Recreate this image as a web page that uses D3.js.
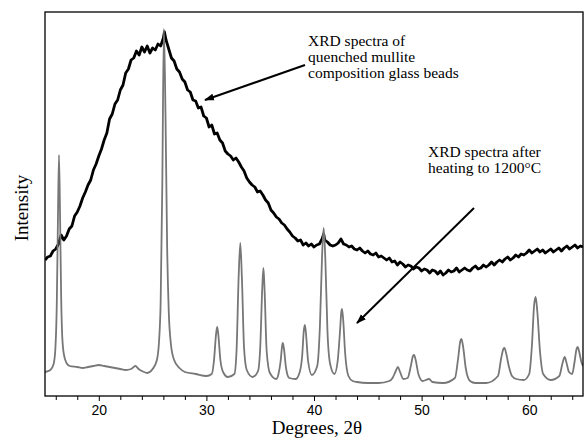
<!DOCTYPE html>
<html><head><meta charset="utf-8">
<script src="https://cdn.jsdelivr.net/npm/d3@7"></script>
<style>
html,body{margin:0;padding:0;background:#fff;}
svg{display:block;}
</style></head>
<body>
<svg id="chart" width="585" height="440"></svg>
<script>
// ---- Data (intensity in arbitrary units) ----
const xDomain = [15, 65];
const yDomain = [0, 384];
const majorTicks = [20, 30, 40, 50, 60];
const minorTicks = [16,18,22,24,26,28,32,34,36,38,42,44,46,48,52,54,56,58,62,64];

// Quenched mullite composition glass beads (amorphous hump)
const glassDeg = [15.00,15.25,15.50,15.75,16.00,16.25,16.50,16.75,17.00,17.25,17.50,17.75,18.00,18.25,18.50,18.75,19.00,19.25,19.50,19.75,20.00,20.25,20.50,20.75,21.00,21.25,21.50,21.75,22.00,22.25,22.50,22.75,23.00,23.25,23.50,23.75,24.00,24.25,24.50,24.75,25.00,25.25,25.50,25.75,26.00,26.10,26.25,26.50,26.75,27.00,27.25,27.50,27.75,28.00,28.25,28.50,28.75,29.00,29.25,29.50,29.75,30.00,30.25,30.50,30.75,31.00,31.25,31.50,31.75,32.00,32.25,32.50,32.75,33.00,33.25,33.50,33.75,34.00,34.25,34.50,34.75,35.00,35.25,35.50,35.75,36.00,36.25,36.50,36.75,37.00,37.25,37.50,37.75,38.00,38.25,38.50,38.75,39.00,39.25,39.50,39.75,40.00,40.25,40.50,40.75,40.90,41.00,41.25,41.50,41.75,42.00,42.25,42.50,42.75,43.00,43.25,43.50,43.75,44.00,44.25,44.50,44.75,45.00,45.25,45.50,45.75,46.00,46.25,46.50,46.75,47.00,47.25,47.50,47.75,48.00,48.25,48.50,48.75,49.00,49.25,49.50,49.75,50.00,50.25,50.50,50.75,51.00,51.25,51.50,51.75,52.00,52.25,52.50,52.75,53.00,53.25,53.50,53.75,54.00,54.25,54.50,54.75,55.00,55.25,55.50,55.75,56.00,56.25,56.50,56.75,57.00,57.25,57.50,57.75,58.00,58.25,58.50,58.75,59.00,59.25,59.50,59.75,60.00,60.25,60.50,60.75,61.00,61.25,61.50,61.75,62.00,62.25,62.50,62.75,63.00,63.25,63.50,63.75,64.00,64.25,64.50,64.75,65.00];
const glassInt = [136,139,140,145,147,152,161,156,160,167,170,180,184,190,198,204,211,216,226,232,240,247,256,263,277,282,292,296,306,311,323,327,336,338,345,341,349,344,350,343,348,346,352,350,358,364,356,347,338,335,327,324,317,314,306,304,296,295,288,289,280,278,269,271,262,263,256,253,245,242,240,236,238,234,229,225,218,214,211,209,204,205,201,196,193,186,183,179,177,173,171,167,164,160,158,155,156,151,153,150,152,149,151,152,157,162,156,154,151,150,151,153,157,152,151,149,150,147,146,148,145,143,145,142,141,143,139,140,138,136,138,134,135,131,134,132,129,131,130,127,129,128,125,127,126,123,126,125,122,125,121,123,126,124,125,128,124,126,128,126,125,128,130,127,128,131,129,131,134,131,134,136,134,137,139,136,138,141,139,142,141,143,146,143,145,147,144,146,143,145,147,144,146,148,145,148,150,147,149,151,148,150,149];

// After heating to 1200 °C (crystalline mullite peaks)
const heatDeg = [15.0,15.5,15.8,15.95,16.1,16.2,16.3,16.4,16.5,16.6,16.75,17.0,17.3,18.0,18.5,19.0,19.5,20.0,20.5,21.0,21.5,22.0,22.5,23.0,23.4,23.7,24.0,24.5,25.0,25.4,25.6,25.75,25.9,26.05,26.2,26.35,26.5,26.7,27.0,27.5,28.0,29.0,30.0,30.5,30.7,30.9,31.0,31.1,31.3,31.55,32.0,32.6,32.8,33.0,33.15,33.3,33.5,33.75,34.3,34.8,35.0,35.2,35.3,35.4,35.6,35.9,36.5,36.7,36.9,37.05,37.1,37.2,37.4,37.7,38.3,38.7,38.9,39.05,39.15,39.25,39.45,39.8,40.3,40.55,40.75,40.9,41.05,41.25,41.5,41.9,42.2,42.4,42.55,42.6,42.7,42.9,43.2,43.6,44.0,45.0,46.0,47.0,47.3,47.6,47.8,48.0,48.3,48.7,49.0,49.2,49.3,49.45,49.7,50.1,50.7,51.0,52.0,53.1,53.4,53.6,53.7,53.85,54.1,54.5,55.0,56.0,57.1,57.4,57.6,57.7,57.85,58.1,58.4,58.8,59.5,60.0,60.25,60.45,60.6,60.75,61.0,61.3,62.0,62.8,63.1,63.3,63.45,63.7,64.0,64.2,64.4,64.5,64.65,64.85,65.0];
const heatInt = [24,26,32,45,95,175,241,180,100,60,42,33,30,29,28,29,30,31,30,29,28,27,26,27,30,27,25,23,27,36,55,95,210,367,280,150,85,52,36,28,24,22,20,22,35,62,69,62,36,24,19,22,45,120,153,118,48,26,19,25,48,110,128,108,45,23,17,22,35,51,53,48,28,18,17,25,40,65,71,63,35,21,30,70,140,168,138,65,32,22,35,62,85,87,78,42,20,15,14,13,13,15,18,25,29,24,17,18,30,40,41,36,22,15,17,14,13,18,38,55,57,50,28,15,13,13,20,38,47,48,43,30,20,17,16,22,50,90,99,85,45,22,16,20,33,39,34,24,22,33,47,49,44,34,30];

const labelGlass = ["XRD spectra of", "quenched mullite", "composition glass beads"];
const labelHeat = ["XRD spectra after", "heating to 1200°C"];
const xTitle = "Degrees, 2θ";
const yTitle = "Intensity";

// ---- Layout ----
const M = {left: 45, top: 12, right: 583, bottom: 396};
const svg = d3.select("#chart");
const x = d3.scaleLinear().domain(xDomain).range([M.left, M.right]);
const y = d3.scaleLinear().domain(yDomain).range([M.bottom, M.top]);
const serif = "'Liberation Serif', 'Times New Roman', serif";
const sans = "'Liberation Sans', Arial, sans-serif";

svg.append("defs").append("clipPath").attr("id", "clip")
  .append("rect").attr("x", M.left).attr("y", M.top)
  .attr("width", M.right - M.left).attr("height", M.bottom - M.top);

const line = d3.line().x(d => x(d[0])).y(d => y(d[1]));
const smoothLine = d3.line().x(d => x(d[0])).y(d => y(d[1])).curve(d3.curveMonotoneX);

svg.append("path")
  .datum(glassDeg.map((d, i) => [d, glassInt[i]]))
  .attr("clip-path", "url(#clip)")
  .attr("d", line)
  .attr("fill", "none").attr("stroke", "#000")
  .attr("stroke-width", 2.8).attr("stroke-linejoin", "round");

svg.append("path")
  .datum(heatDeg.map((d, i) => [d, heatInt[i]]))
  .attr("clip-path", "url(#clip)")
  .attr("d", smoothLine)
  .attr("fill", "none").attr("stroke", "#777")
  .attr("stroke-width", 1.8).attr("stroke-linejoin", "round");

// frame
svg.append("rect")
  .attr("x", M.left).attr("y", M.top)
  .attr("width", M.right - M.left).attr("height", M.bottom - M.top)
  .attr("fill", "none").attr("stroke", "#000").attr("stroke-width", 1.3);

// bottom axis
const gMinor = svg.append("g").attr("transform", `translate(0,${M.bottom})`)
  .call(d3.axisBottom(x).tickValues(minorTicks).tickSize(4).tickFormat(""));
gMinor.select(".domain").remove();
gMinor.selectAll("line").attr("stroke", "#000").attr("stroke-width", 1);

const gMajor = svg.append("g").attr("transform", `translate(0,${M.bottom})`)
  .call(d3.axisBottom(x).tickValues(majorTicks).tickSize(5).tickPadding(4).tickFormat(d3.format("d")));
gMajor.select(".domain").remove();
gMajor.selectAll("line").attr("stroke", "#000").attr("stroke-width", 1);
gMajor.selectAll("text").attr("font-family", sans).attr("font-size", 14).attr("fill", "#000");

// axis titles
svg.append("text").attr("x", (M.left + M.right) / 2 + 3).attr("y", 434)
  .attr("text-anchor", "middle").attr("font-family", serif).attr("font-size", 19)
  .text(xTitle);
svg.append("text").attr("transform", `translate(28,${(M.top + M.bottom) / 2 + 4}) rotate(-90)`)
  .attr("text-anchor", "middle").attr("font-family", serif).attr("font-size", 19)
  .text(yTitle);

// annotations
svg.append("defs").append("marker").attr("id", "arr")
  .attr("viewBox", "0 0 10 10").attr("refX", 9).attr("refY", 5)
  .attr("markerWidth", 5).attr("markerHeight", 5).attr("orient", "auto")
  .append("path").attr("d", "M0,1.5 L10,5 L0,8.5 Z").attr("fill", "#000");

const t1 = svg.append("text").attr("font-family", serif).attr("font-size", 15.5);
labelGlass.forEach((s, i) => t1.append("tspan").attr("x", 308).attr("y", 46 + i * 16).text(s));
const t2 = svg.append("text").attr("font-family", serif).attr("font-size", 15.5);
labelHeat.forEach((s, i) => t2.append("tspan").attr("x", 428).attr("y", 157 + i * 16).text(s));

svg.append("line").attr("x1", 305).attr("y1", 65).attr("x2", 205).attr("y2", 100)
  .attr("stroke", "#000").attr("stroke-width", 2).attr("marker-end", "url(#arr)");
svg.append("line").attr("x1", 474).attr("y1", 208).attr("x2", 357).attr("y2", 323)
  .attr("stroke", "#000").attr("stroke-width", 2).attr("marker-end", "url(#arr)");
</script>
</body></html>
